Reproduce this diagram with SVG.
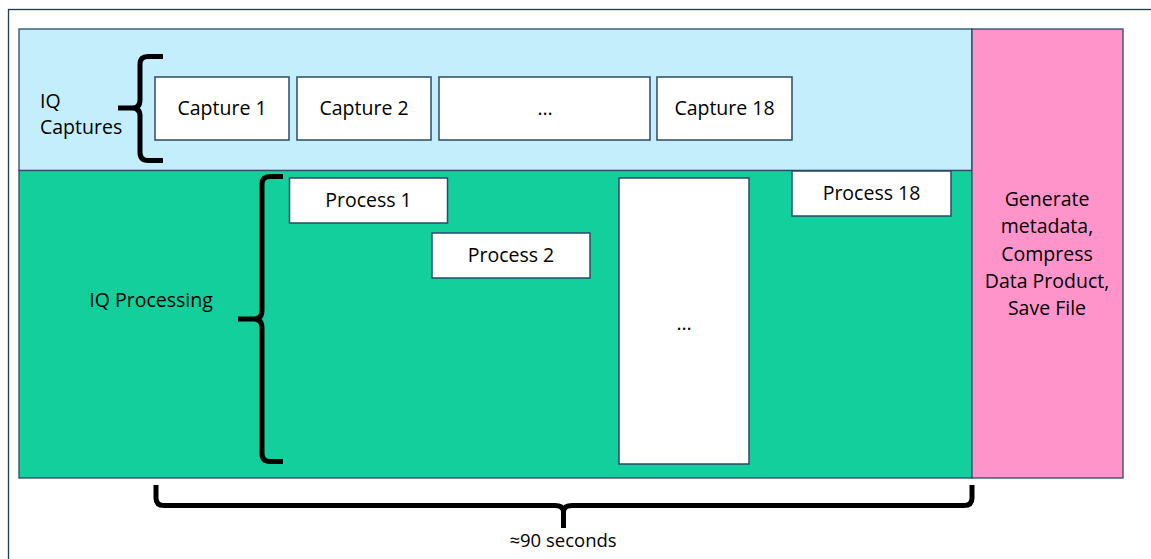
<svg xmlns="http://www.w3.org/2000/svg" width="1151" height="559" viewBox="0 0 1151 559">
<style>
.band{stroke:#2a4a6b;stroke-width:1.3}
.box{fill:#ffffff;stroke:#2a4a6b;stroke-width:1.5}
.t{font-family:"Open Sans","Noto Sans",sans-serif;font-size:19.5px;fill:#000}
.c{text-anchor:middle}
.brace{fill:none;stroke:#000;stroke-width:5;stroke-linejoin:round;stroke-linecap:butt}
</style>
<rect x="0" y="0" width="1151" height="559" fill="#ffffff"/>
<rect x="8.5" y="9.5" width="1150" height="560" fill="none" stroke="#1f3a5a" stroke-width="1.3"/>
<g id="captures-band">
<rect class="band" x="19" y="29" width="953" height="141.5" fill="#c5eefc"/>
<text class="t" x="40" y="108">IQ</text>
<text class="t" x="40" y="134">Captures</text>
</g>
<g id="processing-band">
<rect class="band" x="19" y="170.5" width="953" height="307.5" fill="#12cf9c"/>
<text class="t" x="151" y="307" text-anchor="middle">IQ Processing</text>
</g>
<g id="save-step">
<rect class="band" x="972" y="29" width="151" height="449" fill="#ff94cb"/>
<text class="t c" x="1047" y="206">Generate</text>
<text class="t c" x="1047" y="233">metadata,</text>
<text class="t c" x="1047" y="261">Compress</text>
<text class="t c" x="1047" y="288">Data Product,</text>
<text class="t c" x="1047" y="315">Save File</text>
</g>
<g id="capture1"><rect class="box" x="155" y="77" width="134" height="63"/><text class="t c" x="222" y="115">Capture 1</text></g>
<g id="capture2"><rect class="box" x="297" y="77" width="134" height="63"/><text class="t c" x="364" y="115">Capture 2</text></g>
<g id="capture-more"><rect class="box" x="439" y="77" width="211" height="63"/><text class="t c" x="545" y="115">…</text></g>
<g id="capture18"><rect class="box" x="657" y="77" width="135" height="63"/><text class="t c" x="724.5" y="115">Capture 18</text></g>
<g id="process1"><rect class="box" x="289.5" y="178" width="158" height="45"/><text class="t c" x="368.5" y="207">Process 1</text></g>
<g id="process2"><rect class="box" x="432" y="233" width="158" height="45"/><text class="t c" x="511" y="262">Process 2</text></g>
<g id="process-more"><rect class="box" x="619" y="178" width="130" height="286"/><text class="t c" x="684" y="330">…</text></g>
<g id="process18"><rect class="box" x="792" y="171" width="159" height="45"/><text class="t c" x="871.5" y="200">Process 18</text></g>
<g id="connectors">
<path class="brace" d="M163,56.5 H148 Q140,56.5 140,64 V100 Q140,108 132,108 H118 M132,108 Q140,108 140,116 V152 Q140,160.5 148,160.5 H163"/>
<path class="brace" d="M283,176.5 H270 Q262,176.5 262,184 V310 Q262,319 254,319 H238 M254,319 Q262,319 262,328 V453 Q262,461.5 270,461.5 H283"/>
<path class="brace" d="M156,485 V498 Q156,505.5 164,505.5 H555 Q563.5,505.5 563.5,512 V528 M563.5,512 Q563.5,505.5 572,505.5 H964 Q972,505.5 972,498 V485"/>
</g>
<g id="duration-label"><text class="t c" x="563" y="547" style="font-size:18.5px">≈90 seconds</text></g>
</svg>
